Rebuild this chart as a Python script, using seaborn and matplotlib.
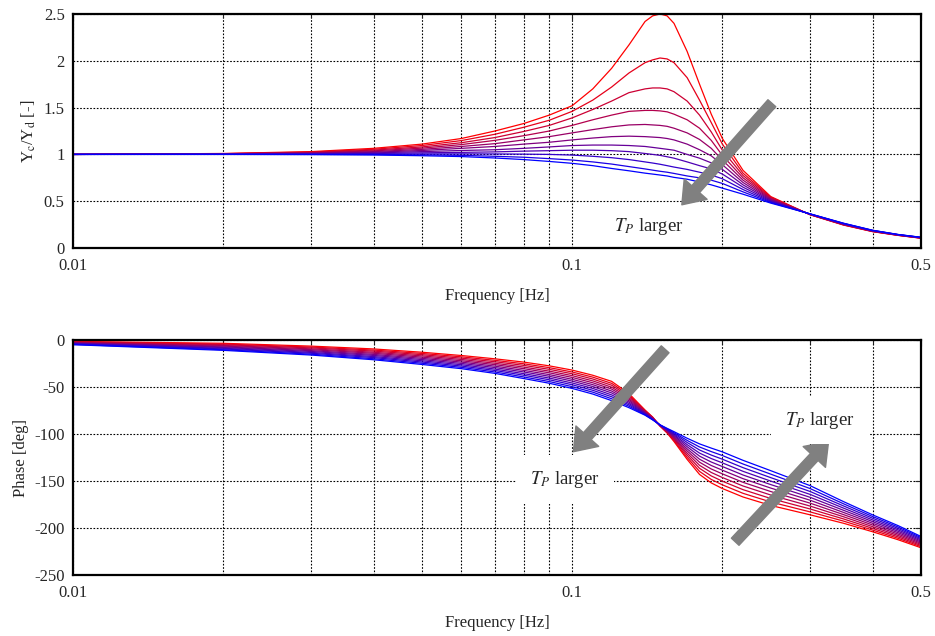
"""Frequency response Yc/Yd for a family of T_P values (magnitude and phase)."""

import matplotlib
matplotlib.use("Agg")
import matplotlib.pyplot as plt
import matplotlib.ticker as mticker
import numpy as np
import pandas as pd
import seaborn as sns


# frequency grid [Hz] the curves were read at
FREQ_HZ = [0.01, 0.02, 0.03, 0.04, 0.05, 0.06, 0.07, 0.08, 0.09, 0.10,
           0.11, 0.12, 0.13, 0.14, 0.145, 0.15, 0.155, 0.16, 0.17, 0.18,
           0.19, 0.20, 0.22, 0.25, 0.30, 0.35, 0.40, 0.45, 0.50]

# curve labels, smallest T_P (red) to largest T_P (blue)
CURVES = [f"TP{k}" for k in range(1, 12)]

# |Yc/Yd| [-], one row per frequency, columns follow CURVES
MAG_ROWS = [
    [1.000, 1.000, 1.000, 1.000, 1.000, 1.000, 1.000, 1.000, 1.000, 1.000, 1.000],
    [1.010, 1.008, 1.007, 1.006, 1.005, 1.004, 1.003, 1.002, 1.001, 1.000, 1.000],
    [1.030, 1.025, 1.021, 1.017, 1.014, 1.011, 1.008, 1.005, 1.002, 1.000, 0.998],
    [1.065, 1.055, 1.046, 1.038, 1.030, 1.023, 1.016, 1.010, 1.004, 0.999, 0.994],
    [1.110, 1.095, 1.080, 1.067, 1.054, 1.042, 1.030, 1.017, 1.005, 0.995, 0.986],
    [1.170, 1.148, 1.125, 1.105, 1.085, 1.065, 1.042, 1.022, 1.006, 0.990, 0.977],
    [1.250, 1.215, 1.180, 1.150, 1.115, 1.085, 1.050, 1.027, 1.005, 0.980, 0.962],
    [1.330, 1.290, 1.245, 1.200, 1.155, 1.110, 1.065, 1.035, 1.003, 0.970, 0.945],
    [1.420, 1.365, 1.310, 1.250, 1.190, 1.130, 1.080, 1.040, 1.000, 0.955, 0.925],
    [1.520, 1.460, 1.390, 1.310, 1.230, 1.155, 1.095, 1.045, 0.993, 0.940, 0.905],
    [1.700, 1.580, 1.480, 1.370, 1.265, 1.175, 1.100, 1.045, 0.980, 0.920, 0.880],
    [1.920, 1.720, 1.570, 1.420, 1.295, 1.190, 1.100, 1.040, 0.965, 0.897, 0.850],
    [2.170, 1.870, 1.660, 1.460, 1.315, 1.195, 1.095, 1.030, 0.945, 0.870, 0.825],
    [2.420, 1.980, 1.700, 1.470, 1.320, 1.190, 1.085, 1.010, 0.920, 0.845, 0.800],
    [2.480, 2.010, 1.710, 1.470, 1.315, 1.185, 1.075, 1.000, 0.908, 0.832, 0.790],
    [2.500, 2.030, 1.710, 1.465, 1.310, 1.180, 1.065, 0.990, 0.895, 0.820, 0.780],
    [2.480, 2.020, 1.700, 1.455, 1.300, 1.170, 1.055, 0.975, 0.880, 0.810, 0.770],
    [2.400, 1.980, 1.670, 1.430, 1.280, 1.155, 1.045, 0.960, 0.865, 0.797, 0.755],
    [2.100, 1.820, 1.570, 1.370, 1.230, 1.110, 1.000, 0.920, 0.840, 0.770, 0.735],
    [1.750, 1.580, 1.420, 1.280, 1.160, 1.050, 0.960, 0.880, 0.810, 0.750, 0.705],
    [1.430, 1.340, 1.240, 1.150, 1.065, 0.985, 0.910, 0.845, 0.780, 0.725, 0.675],
    [1.170, 1.110, 1.045, 0.990, 0.940, 0.890, 0.840, 0.790, 0.740, 0.690, 0.640],
    [0.830, 0.800, 0.775, 0.750, 0.725, 0.700, 0.675, 0.650, 0.625, 0.600, 0.575],
    [0.550, 0.543, 0.536, 0.529, 0.522, 0.515, 0.508, 0.501, 0.494, 0.487, 0.480],
    [0.355, 0.356, 0.357, 0.358, 0.359, 0.360, 0.361, 0.362, 0.363, 0.364, 0.365],
    [0.245, 0.247, 0.249, 0.251, 0.253, 0.255, 0.257, 0.259, 0.261, 0.263, 0.265],
    [0.175, 0.177, 0.178, 0.180, 0.181, 0.183, 0.184, 0.186, 0.187, 0.189, 0.190],
    [0.135, 0.136, 0.137, 0.138, 0.139, 0.140, 0.141, 0.142, 0.143, 0.144, 0.145],
    [0.105, 0.106, 0.107, 0.108, 0.109, 0.110, 0.111, 0.112, 0.113, 0.114, 0.115],
]

# phase [deg], one row per frequency, columns follow CURVES
PHASE_ROWS = [
    [-1.5, -1.9, -2.2, -2.6, -2.9, -3.3, -3.6, -4.0, -4.3, -4.7, -5.0],
    [-3.5, -4.3, -5.0, -5.8, -6.5, -7.3, -8.0, -8.8, -9.5, -10.3, -11.0],
    [-6.5, -7.5, -8.4, -9.4, -10.3, -11.3, -12.2, -13.2, -14.1, -15.1, -16.0],
    [-9.5, -10.7, -11.8, -13.0, -14.1, -15.3, -16.4, -17.6, -18.7, -19.9, -21.0],
    [-13.0, -14.3, -15.6, -16.9, -18.2, -19.5, -20.8, -22.1, -23.4, -24.7, -26.0],
    [-16.5, -17.9, -19.3, -20.7, -22.1, -23.5, -24.9, -26.3, -27.7, -29.1, -30.5],
    [-20.0, -21.6, -23.1, -24.7, -26.2, -27.8, -29.3, -30.9, -32.4, -34.0, -35.5],
    [-23.5, -25.3, -27.0, -28.8, -30.5, -32.3, -34.0, -35.8, -37.5, -39.3, -41.0],
    [-27.5, -29.4, -31.2, -33.1, -34.9, -36.8, -38.6, -40.5, -42.3, -44.2, -46.0],
    [-32.0, -34.0, -35.9, -37.9, -39.8, -41.8, -43.7, -45.7, -47.6, -49.6, -51.5],
    [-37.5, -39.5, -41.5, -43.5, -45.5, -47.5, -49.5, -51.5, -53.5, -55.5, -57.5],
    [-44.0, -46.1, -48.1, -50.2, -52.2, -54.3, -56.3, -58.4, -60.4, -62.5, -64.5],
    [-57.0, -58.5, -60.0, -61.5, -63.0, -64.5, -66.0, -67.5, -69.0, -70.5, -72.0],
    [-74.5, -75.1, -75.6, -76.2, -76.7, -77.3, -77.8, -78.4, -78.9, -79.5, -80.0],
    [-82.0, -82.3, -82.6, -82.9, -83.2, -83.5, -83.8, -84.1, -84.4, -84.7, -85.0],
    [-91.5, -91.4, -91.2, -91.1, -91.0, -90.9, -90.7, -90.6, -90.5, -90.3, -90.2],
    [-99.0, -98.5, -98.0, -97.5, -97.0, -96.5, -96.0, -95.5, -95.0, -94.5, -94.0],
    [-108.0, -107.0, -105.9, -104.9, -103.8, -102.8, -101.7, -100.7, -99.6, -98.6, -97.5],
    [-127.0, -124.8, -122.5, -120.3, -118.0, -115.8, -113.5, -111.3, -109.0, -106.8, -104.5],
    [-143.0, -139.8, -136.5, -133.3, -130.0, -126.8, -123.5, -120.3, -117.0, -113.8, -110.5],
    [-152.0, -148.3, -144.6, -140.9, -137.2, -133.5, -129.8, -126.1, -122.4, -118.7, -115.0],
    [-158.0, -154.1, -150.2, -146.3, -142.4, -138.5, -134.6, -130.7, -126.8, -122.9, -119.0],
    [-167.0, -163.1, -159.2, -155.3, -151.4, -147.5, -143.6, -139.7, -135.8, -131.9, -128.0],
    [-176.0, -172.3, -168.6, -164.9, -161.2, -157.5, -153.8, -150.1, -146.4, -142.7, -139.0],
    [-186.0, -182.9, -179.8, -176.7, -173.6, -170.5, -167.4, -164.3, -161.2, -158.1, -155.0],
    [-195.0, -192.7, -190.4, -188.1, -185.8, -183.5, -181.2, -178.9, -176.6, -174.3, -172.0],
    [-204.0, -202.2, -200.4, -198.6, -196.8, -195.0, -193.2, -191.4, -189.6, -187.8, -186.0],
    [-212.5, -211.0, -209.5, -208.0, -206.5, -205.0, -203.5, -202.0, -200.5, -199.0, -197.5],
    [-221.0, -219.8, -218.6, -217.4, -216.2, -215.0, -213.8, -212.6, -211.4, -210.2, -209.0],
]

X_MAJOR = [0.01, 0.1, 0.5]
X_MINOR = [0.02, 0.03, 0.04, 0.05, 0.06, 0.07, 0.08, 0.09, 0.2, 0.3, 0.4]
MAG_TICKS = [0, 0.5, 1, 1.5, 2, 2.5]
PHASE_TICKS = [-250, -200, -150, -100, -50, 0]
ANNOT = r"$T_P$ larger"


def to_long(rows: list, name: str) -> pd.DataFrame:
    wide = pd.DataFrame(rows, columns=CURVES)
    wide["freq"] = FREQ_HZ
    return wide.melt(id_vars="freq", var_name="curve", value_name=name)


def style_axis(ax, yticks, ylim, ylabel: str) -> None:
    ax.set_xscale("log")
    ax.set_xlim(0.01, 0.5)
    ax.set_ylim(*ylim)
    ax.xaxis.set_major_locator(mticker.FixedLocator(X_MAJOR))
    ax.xaxis.set_minor_locator(mticker.FixedLocator(X_MINOR))
    ax.xaxis.set_major_formatter(mticker.FuncFormatter(lambda v, _: f"{v:g}"))
    ax.xaxis.set_minor_formatter(mticker.NullFormatter())
    ax.set_yticks(yticks)
    ax.yaxis.set_major_formatter(mticker.FuncFormatter(lambda v, _: f"{v:g}"))
    ax.grid(True, which="major", linestyle=(0, (1.5, 1.5)), color="black", linewidth=0.8)
    ax.xaxis.grid(True, which="minor", linestyle=(0, (1.5, 1.5)), color="black", linewidth=0.8)
    ax.set_axisbelow(True)
    ax.tick_params(which="both", direction="in", top=True, right=True, labelsize=12, width=0.8)
    ax.tick_params(which="major", length=4)
    ax.tick_params(which="minor", length=3)
    ax.tick_params(axis="x", pad=7)
    ax.tick_params(axis="y", pad=6)
    for sp in ax.spines.values():
        sp.set_linewidth(1.6)
        sp.set_color("black")
    ax.set_xlabel("Frequency [Hz]", fontsize=12, labelpad=10)
    ax.set_ylabel(ylabel, fontsize=12, labelpad=4)


def gray_arrow(ax, start, end) -> None:
    ax.annotate("", xy=end, xytext=start, zorder=5,
                arrowprops=dict(arrowstyle="simple,head_length=1.5,head_width=2.2,tail_width=0.75",
                                color="#808080", shrinkA=0, shrinkB=0, mutation_scale=10))


def main() -> None:
    sns.set_theme(style="white")
    plt.rcParams["font.family"] = ["Liberation Serif", "DejaVu Serif"]
    plt.rcParams["mathtext.fontset"] = "stix"
    plt.rcParams["axes.unicode_minus"] = False

    colors = [(1 - k / 10, 0, k / 10) for k in range(len(CURVES))]
    mag = to_long(MAG_ROWS, "mag")
    phase = to_long(PHASE_ROWS, "phase")

    fig = plt.figure(figsize=(9.35, 6.36), dpi=100)
    ax1 = fig.add_axes([0.0781, 0.610, 0.9069, 0.368])
    ax2 = fig.add_axes([0.0781, 0.0959, 0.9069, 0.3695])

    sns.lineplot(data=mag, x="freq", y="mag", hue="curve", hue_order=CURVES, palette=colors,
                 estimator=None, linewidth=0.9, legend=False, ax=ax1)
    style_axis(ax1, MAG_TICKS, (0, 2.5), r"Y$_\mathrm{c}$/Y$_\mathrm{d}$ [-]")
    gray_arrow(ax1, (0.2513, 1.547), (0.1659, 0.462))
    ax1.text(0.1427, 0.227, ANNOT, fontsize=13.5, ha="center", va="center", zorder=6,
             bbox=dict(facecolor="white", edgecolor="none", pad=6))

    sns.lineplot(data=phase, x="freq", y="phase", hue="curve", hue_order=CURVES, palette=colors,
                 estimator=None, linewidth=0.9, legend=False, ax=ax2)
    style_axis(ax2, PHASE_TICKS, (-250, 0), "Phase [deg]")
    gray_arrow(ax2, (0.1536, -9.9), (0.1006, -118.8))
    gray_arrow(ax2, (0.2122, -214.6), (0.3264, -108.2))
    ax2.text(0.0968, -148.2, ANNOT, fontsize=13.5, ha="center", va="center", zorder=6,
             bbox=dict(facecolor="white", edgecolor="none", pad=10))
    ax2.text(0.314, -85.1, ANNOT, fontsize=13.5, ha="center", va="center", zorder=6,
             bbox=dict(facecolor="white", edgecolor="none", pad=10))

    fig.savefig("out.png", dpi=100)
    plt.close(fig)


if __name__ == "__main__":
    main()
